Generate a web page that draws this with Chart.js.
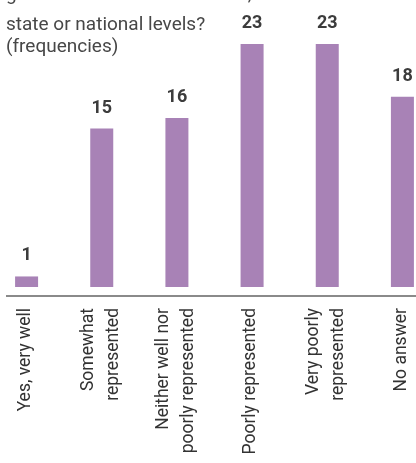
<!DOCTYPE html>
<html>
<head>
<meta charset="utf-8">
<script src="https://cdn.jsdelivr.net/npm/chart.js@4.4.1/dist/chart.umd.min.js"></script>
<style>
  html, body { margin: 0; padding: 0; width: 416px; height: 463px; overflow: hidden; background: #fff; }
  #wrap { position: absolute; left: -11px; top: 0; width: 451px; height: 463px; }
  .titulo {
    position: absolute; left: 6px; z-index: 2;
    font-family: Roboto, "DejaVu Sans", sans-serif; font-size: 19px; line-height: 22px;
    color: #474747; white-space: nowrap;
  }
  #titulo0 { top: -17.5px; }
  #titulo { top: 12.5px; }
</style>
</head>
<body>
<div class="titulo" id="titulo0">government at the local level,</div>
<div class="titulo" id="titulo">state or national levels?<br>(frequencies)</div>
<div id="wrap"><canvas id="grafico"></canvas></div>
<script>
// categorias e frequencias
var categorias = [
    ["Yes, very well"],
    ["Somewhat", "represented"],
    ["Neither well nor", "poorly represented"],
    ["Poorly represented"],
    ["Very poorly", "represented"],
    ["No answer"]
];
var frequencias = [1, 15, 16, 23, 23, 18];

var corBarra = "#A882B6";
var fonte = "Roboto, 'DejaVu Sans', sans-serif";

// linha do eixo x, rotulos das categorias e dos valores
var rotulos = {
    id: "rotulos",
    afterDraw: function (chart) {
        var ctx = chart.ctx;
        var area = chart.chartArea;
        var eixoX = chart.scales.x;
        ctx.save();
        ctx.strokeStyle = "#8a8a8a";
        ctx.lineWidth = 2;
        ctx.beginPath();
        ctx.moveTo(17, area.bottom);
        ctx.lineTo(chart.width, area.bottom);
        ctx.stroke();

        // categorias, giradas 90 graus
        ctx.fillStyle = "#333";
        ctx.font = "17.5px " + fonte;
        ctx.textAlign = "right";
        ctx.textBaseline = "middle";
        categorias.forEach(function (linhas, i) {
            var px = eixoX.getPixelForTick(i);
            linhas.forEach(function (txt, j) {
                var x = px - 1 + (j - (linhas.length - 1) / 2) * 25;
                ctx.save();
                ctx.translate(x, area.bottom + 12);
                ctx.rotate(-Math.PI / 2);
                ctx.fillText(txt, 0, 0);
                ctx.restore();
            });
        });

        ctx.fillStyle = "#3c3c3c";
        ctx.font = "bold 18px " + fonte;
        ctx.textAlign = "center";
        ctx.textBaseline = "alphabetic";
        chart.getDatasetMeta(0).data.forEach(function (bar, i) {
            ctx.fillText(frequencias[i], bar.x, bar.y - 16);
        });
        ctx.restore();
    }
};

var grafico = new Chart(document.getElementById("grafico"), {
    type: "bar",
    data: {
        labels: categorias,
        datasets: [{
            data: frequencias,
            backgroundColor: corBarra,
            hoverBackgroundColor: corBarra,
            categoryPercentage: 1,
            barPercentage: 0.306
        }]
    },
    options: {
        responsive: true,
        maintainAspectRatio: false,
        animation: false,
        layout: { padding: 0 },
        plugins: {
            legend: { display: false },
            tooltip: { enabled: false }
        },
        scales: {
            x: {
                grid: { display: false, drawTicks: false },
                border: { display: false },
                ticks: { display: false },
                afterFit: function (scale) { scale.height = 167; }
            },
            y: {
                display: false,
                min: -0.85,
                max: 27.16
            }
        }
    },
    plugins: [rotulos]
});
</script>
</body>
</html>
